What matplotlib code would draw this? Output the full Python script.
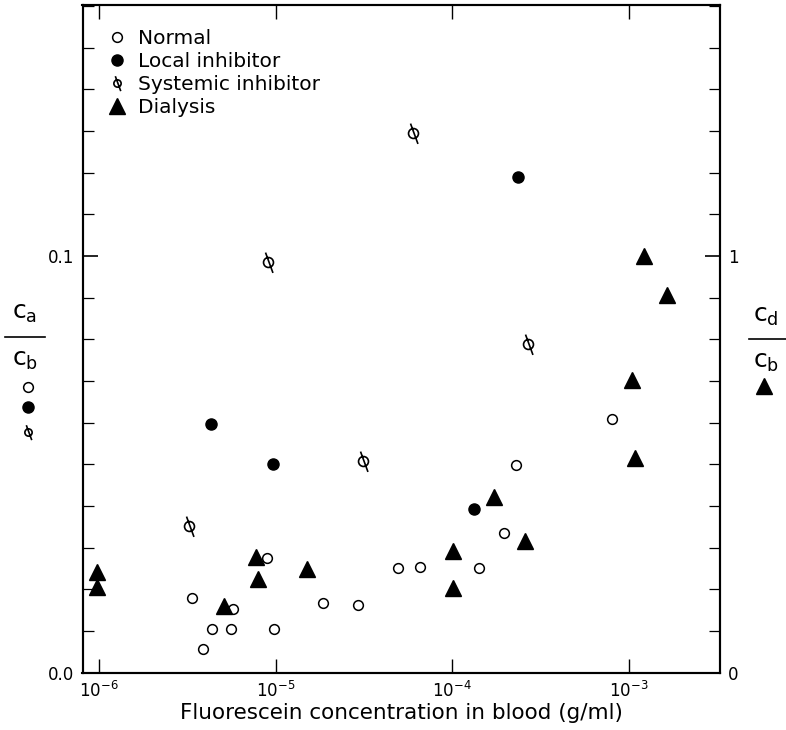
import numpy as np
import matplotlib
matplotlib.use("Agg")
import matplotlib.pyplot as plt
from matplotlib.path import Path
from matplotlib.lines import Line2D
from matplotlib.ticker import FixedLocator, MultipleLocator

plt.rcParams['font.family'] = ['DejaVu Sans']
plt.rcParams['mathtext.default'] = 'regular'

# ---------------- data ----------------
normal_x = [3.35e-6, 4.38e-6, 5.57e-6, 3.90e-6, 5.76e-6, 8.97e-6, 9.75e-6,
            1.86e-5, 2.92e-5, 4.91e-5, 6.61e-5, 1.42e-4, 1.97e-4, 2.29e-4, 8.0e-4]
normal_y = [0.0179, 0.0105, 0.0105, 0.0056, 0.0153, 0.0276, 0.0104,
            0.0167, 0.0162, 0.0251, 0.0254, 0.0251, 0.0335, 0.0498, 0.0609]

local_x = [4.31e-6, 9.63e-6, 1.33e-4, 2.37e-4]
local_y = [0.0596, 0.0500, 0.0393, 0.119]

systemic_x = [3.23e-6, 9.06e-6, 3.11e-5, 6.02e-5, 2.70e-4]
systemic_y = [0.0353, 0.0985, 0.0509, 0.1296, 0.0789]

dialysis_x = [0.97e-6, 0.98e-6, 5.10e-6, 7.74e-6, 7.98e-6, 1.50e-5, 1.01e-4,
              1.01e-4, 1.73e-4, 2.59e-4, 1.04e-3, 1.09e-3, 1.22e-3, 1.64e-3]
dialysis_y = [0.242, 0.205, 0.161, 0.278, 0.224, 0.248, 0.292,
              0.203, 0.422, 0.316, 0.702, 0.516, 1.0, 0.906]

legend_labels = ["Normal", "Local inhibitor", "Systemic inhibitor", "Dialysis"]
x_label = "Fluorescein concentration in blood (g/ml)"
x_ticks = [1e-6, 1e-5, 1e-4, 1e-3]
x_ticklabels = [r"$10^{-6}$", r"$10^{-5}$", r"$10^{-4}$", r"$10^{-3}$"]
left_ticks = [0.0, 0.1]
left_ticklabels = ["0.0", "0.1"]
right_ticks = [0, 1]
right_ticklabels = ["0", "1"]

# ------------- custom marker: circle with slash -------------
circ = Path.unit_circle()
slash = Path([(-0.6, 2.0), (0.9, -2.1)], [Path.MOVETO, Path.LINETO])
phi_marker = Path.make_compound_path(circ, slash)

W, H = 786, 730
fig = plt.figure(figsize=(W / 100, H / 100), dpi=100)
L, R, T, B = 82.5, 720, 5, 672.7
ax = fig.add_axes([L / W, (H - B) / H, (R - L) / W, (B - T) / H])

ax.set_xscale('log')
ax.set_xlim(10 ** -6.093, 10 ** -2.484)
ax.set_ylim(0, (B - T) / 4167)

ms_open = dict(marker='o', linestyle='none', markersize=7, markerfacecolor='white',
               markeredgecolor='black', markeredgewidth=1.1)
ms_fill = dict(marker='o', linestyle='none', markersize=8, color='black')
ms_phi = dict(marker=phi_marker, linestyle='none', markersize=15, markerfacecolor='none',
              markeredgecolor='black', markeredgewidth=1.2)
ms_tri = dict(marker='^', linestyle='none', markersize=11, color='black')

ax.plot(normal_x, normal_y, **ms_open)
ax.plot(local_x, local_y, **ms_fill)
ax.plot(systemic_x, systemic_y, **ms_phi)

ax2 = ax.twinx()
ax2.set_ylim(0, (B - T) / 416.7)
ax2.plot(dialysis_x, dialysis_y, **ms_tri)

# ticks
ax.set_xticks(x_ticks)
ax.set_xticklabels(x_ticklabels, fontsize=12)
ax.xaxis.set_minor_locator(FixedLocator([]))
ax.tick_params(axis='x', which='major', direction='in', length=10, width=1.0,
               top=True, bottom=True, pad=6)
ax.set_yticks(left_ticks)
ax.set_yticklabels(left_ticklabels, fontsize=12)
ax.yaxis.set_minor_locator(MultipleLocator(0.01))
ax.tick_params(axis='y', which='major', direction='in', length=11, width=1.2,
               left=True, right=False, pad=6)
ax.tick_params(axis='y', which='minor', direction='in', length=8, width=0.9,
               left=True, right=False)

ax2.set_yticks(right_ticks)
ax2.set_yticklabels(right_ticklabels, fontsize=12)
ax2.yaxis.set_minor_locator(MultipleLocator(0.1))
ax2.tick_params(axis='y', which='major', direction='in', length=11, width=1.2, pad=6)
ax2.tick_params(axis='y', which='minor', direction='in', length=8, width=0.9)

for a in (ax, ax2):
    for s in a.spines.values():
        s.set_linewidth(1.5)

ax.set_xlabel(x_label, fontsize=15.5, labelpad=1)

# legend
handles = [Line2D([], [], **ms_open), Line2D([], [], **ms_fill),
           Line2D([], [], **dict(ms_phi, markersize=11)), Line2D([], [], **ms_tri)]
leg = ax.legend(handles, legend_labels, loc='upper left', frameon=False,
                bbox_to_anchor=(0.02, 0.982), fontsize=14.5, handlelength=1.0,
                handletextpad=0.5, labelspacing=0.2, borderaxespad=0.2)

# y labels as fractions
def fx(px):
    return px / W

def fy(py):
    return 1 - py / H

fig.text(fx(25), fy(313), r"$c_a$", fontsize=18, ha='center', va='center')
fig.add_artist(Line2D([fx(5), fx(45)], [fy(337), fy(337)], color='black', lw=1.2,
                      transform=fig.transFigure))
fig.text(fx(25), fy(360), r"$c_b$", fontsize=18, ha='center', va='center')
fig.add_artist(Line2D([fx(28)], [fy(387)], transform=fig.transFigure, **ms_open))
fig.add_artist(Line2D([fx(28)], [fy(407)], transform=fig.transFigure, **ms_fill))
fig.add_artist(Line2D([fx(28)], [fy(432)], transform=fig.transFigure,
                      **dict(ms_phi, markersize=11)))

fig.text(fx(766), fy(316), r"$c_d$", fontsize=18, ha='center', va='center')
fig.add_artist(Line2D([fx(749), fx(786)], [fy(339), fy(339)], color='black', lw=1.2,
                      transform=fig.transFigure))
fig.text(fx(766), fy(362), r"$c_b$", fontsize=18, ha='center', va='center')
fig.add_artist(Line2D([fx(764)], [fy(386)], transform=fig.transFigure, **ms_tri))

fig.savefig("out.png", dpi=100)
